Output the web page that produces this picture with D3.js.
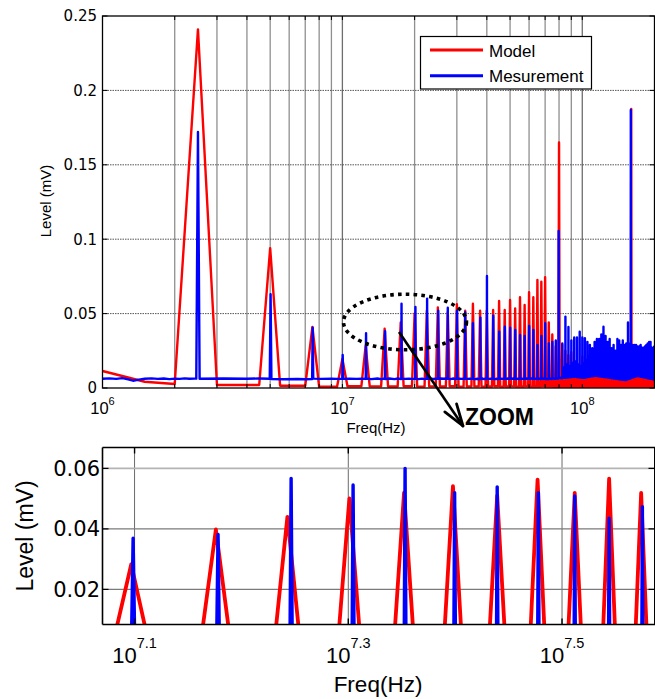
<!DOCTYPE html>
<html><head><meta charset="utf-8">
<script src="https://cdn.jsdelivr.net/npm/d3@7"></script>
<style>body{margin:0;background:#fff}svg{display:block}</style>
</head><body>
<svg id="c" width="655" height="699"></svg>
<script>
// ---------------- DATA (values in MHz and mV) ----------------
const harmonicMHz = [2.5,5,7.5,10,12.5,15,17.5,20,22.5,25,27.5,30,32.5,35,37.5,40,42.5,45,47.5,50,
 52.5,55,57.5,60,62.5,65,67.5,70,72.5,75,77.5,80,82.5,85,87.5,90,92.5,95,97.5,100,
 102.5,105,107.5,110,112.5,115,117.5,120,122.5,125,127.5,130,132.5,135,137.5,140,142.5,145,147.5,150,
 152.5,155,157.5,160,162.5,165,167.5,170,172.5,175,177.5,180,182.5,185,187.5,190,192.5,195,197.5,200];
const modelPeak = [0.241,0.094,0.041,0.0195,0.0283,0.0398,0.044,0.0501,0.052,0.0541,0.051,0.0563,0.0519,0.0566,0.0519,0.052,0.0524,0.0585,0.0524,0.0591,
 0.0535,0.061,0.0558,0.0643,0.061,0.0726,0.0714,0.0744,0.044,0.036,0.028,0.165,0.029,0.025,0.022,0.024,0.018,0.016,0.015,0.021,
 0.014,0.013,0.015,0.012,0.014,0.013,0.016,0.012,0.014,0.015,0.013,0.012,0.014,0.013,0.015,0.012,0.013,0.014,0.012,0.013,
 0.015,0.014,0.013,0.1875,0.012,0.013,0.014,0.012,0.013,0.012,0.014,0.013,0.012,0.013,0.012,0.014,0.012,0.013,0.012,0.012];
const modelLow = [0.002,0.0015,0.0008,0.0012,0.0011,0.0010,0.0012,0.0009,0.0011,0.0010,0.0012,0.0009,0.0010,0.0011,0.0009,0.0010,0.0012,0.0009,0.0010,0.0011,
 0.0009,0.0010,0.0011,0.0009,0.0010,0.0009,0.0011,0.0010,0.0009,0.0008,0.0007,0.0006,0.0005,0.0004,0.0004,0.0003,0.0003,0.0003,0.0003,0.0003,
 0.0003,0.0003,0.0003,0.0003,0.0003,0.0003,0.0003,0.0003,0.0003,0.0003,0.0003,0.0003,0.0003,0.0003,0.0003,0.0003,0.0003,0.0003,0.0003,0.0003,
 0.0003,0.0003,0.0003,0.0003,0.0003,0.0003,0.0003,0.0003,0.0003,0.0003,0.0003,0.0003,0.0003,0.0003,0.0003,0.0003,0.0003,0.0003,0.0003,0.0003];
const modelStartMHz = [1.0, 1.5, 2.0];
const modelStartVal = [0.0114, 0.0042, 0.0027];

const measFreqMHz = [2.5,5.02,7.52,10.03,12.55,15.07,17.64,20.16,22.55,25.09,27.5,30.05,32.5,35.0,37.6,40.05,42.55,45.05,47.55,50.05,
 52.55,55.05,57.55,60.05,62.55,65.05,67.55,70.05,72.55,75.05,77.55,79.7,82.55,85.05,87.55,90.05,92.55,95.05,97.55,100.05,
 102.55,105.05,107.55,110.05,112.55,115.05,117.55,120.05,122.55,125.05,127.55,130.05,132.55,135.05,137.55,140.05,142.55,145.05,147.55,150.05,
 152.55,155.05,157.55,159.3,162.55,165.05,167.55,170.05,172.55,175.05,177.55,180.05,182.55,185.05,187.55,190.05,192.55,195.05,197.55,199.9];
const measPeak = [0.172,0.063,0.0405,0.0222,0.0369,0.0382,0.0567,0.0545,0.060,0.052,0.0539,0.052,0.0509,0.0435,0.0473,0.0753,0.0486,0.0378,0.0412,0.0405,
 0.039,0.0356,0.035,0.0417,0.039,0.0289,0.035,0.0435,0.030,0.031,0.032,0.1055,0.030,0.048,0.041,0.032,0.034,0.034,0.0378,0.034,
 0.0334,0.031,0.029,0.0267,0.031,0.033,0.033,0.036,0.0412,0.035,0.031,0.033,0.0267,0.029,0.025,0.033,0.032,0.029,0.032,0.029,
 0.030,0.044,0.030,0.1868,0.029,0.029,0.029,0.028,0.028,0.029,0.027,0.027,0.028,0.029,0.030,0.031,0.031,0.027,0.027,0.028];
const measFloor = [0.0062,0.0060,0.0063,0.0061,0.0064,0.0060,0.0062,0.0063,0.0061,0.0062,0.0064,0.0061,0.0063,0.0062,0.0060,0.0063,0.0062,0.0061,0.0064,0.0062,
 0.0063,0.0061,0.0062,0.0064,0.0061,0.0063,0.0062,0.0060,0.0063,0.0062,0.0064,0.0066,0.0068,0.0070,0.0072,0.0074,0.0076,0.0072,0.0070,0.0068,
 0.0072,0.0075,0.0078,0.0080,0.0082,0.0080,0.0078,0.0076,0.0074,0.0072,0.0070,0.0068,0.0066,0.0064,0.0062,0.0060,0.0058,0.0056,0.0055,0.0054,
 0.0058,0.0062,0.0066,0.0070,0.0074,0.0078,0.0080,0.0080,0.0078,0.0076,0.0074,0.0072,0.0070,0.0068,0.0066,0.0064,0.0062,0.0060,0.0058,0.0056];
const measMid = [0.0064,0.0059,0.0061,0.0063,0.0060,0.0064,0.0061,0.0060,0.0063,0.0064,0.0060,0.0063,0.0061,0.0060,0.0064,0.0061,0.0060,0.0063,0.0061,0.0064,
 0.0060,0.0063,0.0064,0.0061,0.0063,0.0060,0.0064,0.0062,0.0061,0.0065,0.0066,0.0070,0.0140,0.0160,0.0150,0.0170,0.0180,0.0160,0.0150,0.0170,
 0.0190,0.0170,0.0160,0.0180,0.0200,0.0170,0.0160,0.0190,0.0210,0.0180,0.0160,0.0170,0.0150,0.0160,0.0140,0.0170,0.0180,0.0160,0.0170,0.0150,
 0.0160,0.0200,0.0170,0.0180,0.0160,0.0170,0.0160,0.0150,0.0160,0.0170,0.0150,0.0150,0.0160,0.0170,0.0160,0.0180,0.0170,0.0150,0.0150,0.0160];
const measStartMHz = [1.0,1.07,1.14,1.21,1.28,1.34,1.42,1.5,1.6,1.7,1.8,1.9,2.0,2.1,2.2,2.3,2.42];
const measStartVal = [0.0062,0.0065,0.0061,0.0066,0.0058,0.0049,0.0056,0.0062,0.0065,0.0061,0.0064,0.0060,0.0063,0.0061,0.0065,0.0062,0.0063];

const topYTicks = [0, 0.05, 0.1, 0.15, 0.2, 0.25];
const topYTickLabels = ["0","0.05","0.1","0.15","0.2","0.25"];
const topXTicks = [1e6, 1e7, 1e8];
const topXTickExp = ["6","7","8"];
const botYTicks = [0.02, 0.04, 0.06];
const botYTickLabels = ["0.02","0.04","0.06"];
const botXTickExp = [7.1, 7.3, 7.5];
const botXTickLabels = ["7.1","7.3","7.5"];
const seriesNames = ["Model","Mesurement"];
const seriesColors = ["#ff0000","#0000ff"];

// ---------------- BUILD SERIES ----------------
const M = 1e6;
const modelPts = [];
modelStartMHz.forEach((f,i)=>modelPts.push([f*M, modelStartVal[i]]));
harmonicMHz.forEach((f,i)=>{
  modelPts.push([f*M, modelPeak[i]]);
  modelPts.push([(f+0.5)*M, modelLow[i]]);
  modelPts.push([(f+2.0)*M, modelLow[i]]);
});
const measPts = [];
measStartMHz.forEach((f,i)=>measPts.push([f*M, measStartVal[i]]));
harmonicMHz.forEach((f,i)=>{
  const fm = measFreqMHz[i];
  const prev = i===0 ? measStartVal[measStartVal.length-1] : measFloor[i-1];
  measPts.push([(fm-0.04)*M, prev]);
  measPts.push([fm*M, measPeak[i]]);
  measPts.push([(fm+0.04)*M, measFloor[i]]);
  measPts.push([(f+0.7)*M, measMid[i]]);
  measPts.push([(f+1.5)*M, measFloor[i]]);
  measPts.push([(f+2.0)*M, measMid[i]]);
});

const svg = d3.select("#c");
const FONT = "'Liberation Sans', Arial, Helvetica, sans-serif";
const NUMFONT = "'DejaVu Sans', Verdana, sans-serif";

// ---------------- TOP CHART ----------------
const T = {l:102.5, r:654.5, t:16, b:388};
const xT = d3.scaleLog().domain([1e6, 2e8]).range([T.l, T.r]);
const yT = d3.scaleLinear().domain([0, 0.25]).range([T.b, T.t]);
svg.append("clipPath").attr("id","clipT").append("rect")
  .attr("x",T.l).attr("y",T.t).attr("width",T.r-T.l).attr("height",T.b-T.t);

const gT = svg.append("g");
const vgrid = [];
[1e6,1e7,1e8].forEach(d=>{ for(let k=1;k<10;k++){ const v=k*d; if(v>1e6 && v<2e8) vgrid.push(v);} });
gT.selectAll(".vg").data(vgrid).enter().append("line")
  .attr("x1",d=>xT(d)).attr("x2",d=>xT(d)).attr("y1",T.t).attr("y2",T.b)
  .attr("stroke",d=>(d===1e7||d===1e8)?"#6e6e6e":"#8f8f8f").attr("stroke-width",1.3);
gT.selectAll(".hg").data(topYTicks.filter(v=>v>0 && v<0.25)).enter().append("line")
  .attr("x1",T.l).attr("x2",T.r).attr("y1",d=>yT(d)).attr("y2",d=>yT(d))
  .attr("stroke","#555").attr("stroke-width",1).attr("stroke-dasharray","1.5,1");

const lineT = d3.line().x(d=>xT(d[0])).y(d=>yT(d[1]));
const dataT = svg.append("g").attr("clip-path","url(#clipT)");
dataT.append("path").attr("d",lineT(modelPts)).attr("fill","none")
  .attr("stroke",seriesColors[0]).attr("stroke-width",2.4).attr("stroke-linejoin","round");
dataT.append("path").attr("d",lineT(measPts)).attr("fill","none")
  .attr("stroke",seriesColors[1]).attr("stroke-width",2.4).attr("stroke-linejoin","round");

svg.append("rect").attr("x",T.l).attr("y",T.t).attr("width",T.r-T.l).attr("height",T.b-T.t)
  .attr("fill","none").attr("stroke","#000").attr("stroke-width",1.3);
svg.selectAll(".tyt").data(topYTicks).enter().append("g").each(function(d){
  const g=d3.select(this);
  g.append("line").attr("x1",T.l).attr("x2",T.l+5).attr("y1",yT(d)).attr("y2",yT(d)).attr("stroke","#000");
  g.append("line").attr("x1",T.r-5).attr("x2",T.r).attr("y1",yT(d)).attr("y2",yT(d)).attr("stroke","#000");
});
svg.selectAll(".txt").data(vgrid.concat([1e6])).enter().append("g").each(function(d){
  const g=d3.select(this);
  g.append("line").attr("x1",xT(d)).attr("x2",xT(d)).attr("y1",T.t).attr("y2",T.t+4).attr("stroke","#000");
  g.append("line").attr("x1",xT(d)).attr("x2",xT(d)).attr("y1",T.b-4).attr("y2",T.b).attr("stroke","#000");
});
svg.selectAll(".tyl").data(topYTicks).enter().append("text")
  .attr("x",97).attr("y",(d)=>yT(d)).attr("dy","0.36em").attr("text-anchor","end")
  .attr("font-family",NUMFONT).attr("font-size",15).text((d,i)=>topYTickLabels[i]);
topXTicks.forEach((v,i)=>{
  const t = svg.append("text").attr("x",xT(v)).attr("y",414).attr("text-anchor","middle")
    .attr("font-family",FONT).attr("font-size",16.5);
  t.append("tspan").text("10");
  t.append("tspan").attr("dy",-9).attr("font-size",11).text(topXTickExp[i]);
});
svg.append("text").attr("x",376).attr("y",433).attr("text-anchor","middle")
  .attr("font-family",FONT).attr("font-size",15).text("Freq(Hz)");
svg.append("text").attr("transform","translate(51,201) rotate(-90)").attr("text-anchor","middle")
  .attr("font-family",FONT).attr("font-size",15).text("Level (mV)");

// legend
const lg = svg.append("g");
lg.append("rect").attr("x",420.5).attr("y",36.5).attr("width",171).attr("height",52.5)
  .attr("fill","#fff").attr("stroke","#000").attr("stroke-width",1.2);
seriesNames.forEach((n,i)=>{
  const y = [50,75.7][i];
  lg.append("line").attr("x1",430).attr("x2",483).attr("y1",y).attr("y2",y)
    .attr("stroke",seriesColors[i]).attr("stroke-width",3);
  lg.append("text").attr("x",489).attr("y",y+6.5).attr("font-family",FONT)
    .attr("font-size",17).text(n);
});

// annotation
svg.append("ellipse").attr("cx",405).attr("cy",322).attr("rx",61.5).attr("ry",27.8)
  .attr("fill","none").attr("stroke","#000").attr("stroke-width",3.6).attr("stroke-dasharray","3.6,4.2");
const ax1=399, ay1=332, ax2=463, ay2=426;
svg.append("line").attr("x1",ax1).attr("y1",ay1).attr("x2",ax2).attr("y2",ay2)
  .attr("stroke","#000").attr("stroke-width",2.6);
(function(){
  const dx=ax2-ax1, dy=ay2-ay1, L=Math.hypot(dx,dy), ux=-dx/L, uy=-dy/L;
  [18,-18].forEach(a=>{
    const r=a*Math.PI/180, c=Math.cos(r), s=Math.sin(r);
    const vx=ux*c-uy*s, vy=ux*s+uy*c;
    svg.append("line").attr("x1",ax2).attr("y1",ay2).attr("x2",ax2+vx*23).attr("y2",ay2+vy*23)
      .attr("stroke","#000").attr("stroke-width",2.8).attr("stroke-linecap","round");
  });
})();
svg.append("text").attr("x",465).attr("y",425).attr("font-family",FONT).attr("font-weight","bold")
  .attr("font-size",23).text("ZOOM");

// ---------------- BOTTOM CHART ----------------
const B = {l:102.5, r:654.5, t:447.5, b:624.5};
const xB = d3.scaleLog().domain([Math.pow(10,7.07), Math.pow(10,7.587)]).range([B.l, 655]);
const yB = d3.scaleLinear().domain([0.0084, 0.0669]).range([B.b, B.t]);
svg.append("clipPath").attr("id","clipB").append("rect")
  .attr("x",B.l).attr("y",B.t).attr("width",B.r-B.l).attr("height",B.b-B.t);
const gB = svg.append("g");
gB.selectAll(".bvg").data(botXTickExp).enter().append("line")
  .attr("x1",d=>xB(Math.pow(10,d))).attr("x2",d=>xB(Math.pow(10,d))).attr("y1",B.t).attr("y2",B.b)
  .attr("stroke","#6a6a6a").attr("stroke-width",1);
gB.selectAll(".bhg").data(botYTicks).enter().append("line")
  .attr("x1",B.l).attr("x2",B.r).attr("y1",d=>yB(d)).attr("y2",d=>yB(d))
  .attr("stroke",d=>d===0.06?"#b4b4b4":"#7a7a7a").attr("stroke-width",d=>d===0.06?1.8:1.1);
const lineB = d3.line().x(d=>xB(d[0])).y(d=>yB(d[1]));
const dataB = svg.append("g").attr("clip-path","url(#clipB)");
dataB.append("path").attr("d",lineB(modelPts)).attr("fill","none")
  .attr("stroke",seriesColors[0]).attr("stroke-width",3.8).attr("stroke-linejoin","round");
dataB.append("path").attr("d",lineB(measPts)).attr("fill","none")
  .attr("stroke",seriesColors[1]).attr("stroke-width",3.4).attr("stroke-linejoin","round");
svg.append("line").attr("x1",B.l).attr("x2",655).attr("y1",B.t).attr("y2",B.t).attr("stroke","#000").attr("stroke-width",1.4);
svg.append("line").attr("x1",B.l).attr("x2",655).attr("y1",B.b).attr("y2",B.b).attr("stroke","#000").attr("stroke-width",1.6);
svg.append("line").attr("x1",B.l).attr("x2",B.l).attr("y1",B.t).attr("y2",B.b).attr("stroke","#000").attr("stroke-width",1.6);
svg.append("line").attr("x1",654.5).attr("x2",654.5).attr("y1",B.t).attr("y2",B.b).attr("stroke","#000").attr("stroke-width",1);
botYTicks.forEach(v=>{
  svg.append("line").attr("x1",B.l).attr("x2",B.l+6).attr("y1",yB(v)).attr("y2",yB(v)).attr("stroke","#000").attr("stroke-width",1.2);
  svg.append("line").attr("x1",B.r-6).attr("x2",B.r).attr("y1",yB(v)).attr("y2",yB(v)).attr("stroke","#000").attr("stroke-width",1.2);
});
botXTickExp.forEach(e=>{
  const x = xB(Math.pow(10,e));
  svg.append("line").attr("x1",x).attr("x2",x).attr("y1",B.t).attr("y2",B.t+6).attr("stroke","#000").attr("stroke-width",1.4);
  svg.append("line").attr("x1",x).attr("x2",x).attr("y1",B.b-6).attr("y2",B.b).attr("stroke","#000").attr("stroke-width",1.4);
});
svg.selectAll(".byl").data(botYTicks).enter().append("text")
  .attr("x",100).attr("y",d=>yB(d)).attr("dy","0.36em").attr("text-anchor","end")
  .attr("font-family",NUMFONT).attr("font-size",21).text((d,i)=>botYTickLabels[i]);
botXTickExp.forEach((e,i)=>{
  const t = svg.append("text").attr("x",xB(Math.pow(10,e))).attr("y",663).attr("text-anchor","middle")
    .attr("font-family",FONT).attr("font-size",22);
  t.append("tspan").text("10");
  t.append("tspan").attr("dy",-15).attr("font-size",14.5).text(botXTickLabels[i]);
});
svg.append("text").attr("x",378).attr("y",692).attr("text-anchor","middle")
  .attr("font-family",FONT).attr("font-size",22.5).text("Freq(Hz)");
svg.append("text").attr("transform","translate(33,536) rotate(-90)").attr("text-anchor","middle")
  .attr("font-family",FONT).attr("font-size",23).text("Level (mV)");
</script>
</body></html>
